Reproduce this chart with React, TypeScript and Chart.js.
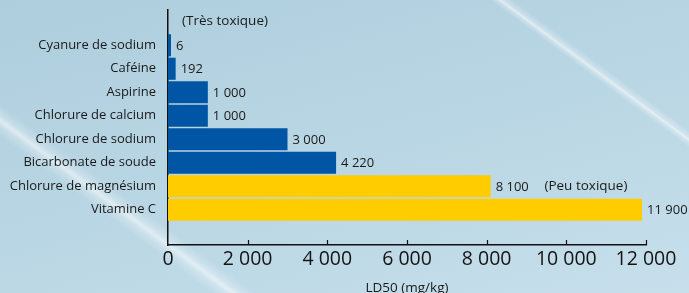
import React, { useEffect, useRef } from "react";
import { Chart, registerables } from "chart.js";

Chart.register(...registerables);

const categories = [
  "",
  "Cyanure de sodium",
  "Caféine",
  "Aspirine",
  "Chlorure de calcium",
  "Chlorure de sodium",
  "Bicarbonate de soude",
  "Chlorure de magnésium",
  "Vitamine C",
  "",
];
const ld50Values: (number | null)[] = [null, 6, 192, 1000, 1000, 3000, 4220, 8100, 11900, null];
const barColors = ["#0055a5", "#0055a5", "#0055a5", "#0055a5", "#0055a5", "#0055a5", "#0055a5", "#ffcc00", "#ffcc00", "#0055a5"];
const xTicks = [0, 2000, 4000, 6000, 8000, 10000, 12000];
const axisTitle = "LD50 (mg/kg)";
const topNote = "(Très toxique)";
const lowNote = "(Peu toxique)";

const FONT = "'Open Sans', 'Noto Sans', sans-serif";
const fmt = (v: number) => String(v).replace(/\B(?=(\d{3})+(?!\d))/g, " ");

const annotations = {
  id: "annotations",
  afterDatasetsDraw(chart: any) {
    const { ctx, scales } = chart;
    const x = scales.x;
    const y = scales.y;
    const meta = chart.getDatasetMeta(0);
    ctx.save();
    // inward tick marks on x axis
    ctx.strokeStyle = "#111";
    ctx.lineWidth = 1.2;
    xTicks.forEach((t) => {
      if (t === 0) return;
      const px = Math.round(x.getPixelForValue(t)) + 0.5;
      ctx.beginPath();
      ctx.moveTo(px, x.top);
      ctx.lineTo(px, x.top - 5);
      ctx.stroke();
    });
    // value labels
    ctx.fillStyle = "#1a1a1a";
    ctx.font = `13px ${FONT}`;
    ctx.textBaseline = "middle";
    ctx.textAlign = "left";
    meta.data.forEach((bar: any, i: number) => {
      const v = ld50Values[i];
      if (v == null) return;
      ctx.fillText(fmt(v), bar.x + 5, bar.y + 1);
    });
    // notes
    ctx.font = `13.5px ${FONT}`;
    ctx.fillText(topNote, x.getPixelForValue(0) + 14, y.getPixelForValue(0) - 1);
    const magBar = meta.data[7];
    ctx.fillText(lowNote, x.getPixelForValue(9450), magBar.y);
    // axis title
    ctx.textAlign = "center";
    ctx.font = `13.5px ${FONT}`;
    ctx.fillText(axisTitle, (x.left + x.right) / 2, 288);
    ctx.restore();
  },
};

export default function App() {
  const ref = useRef<HTMLCanvasElement | null>(null);
  useEffect(() => {
    document.body.style.margin = "0";
    const chart = new Chart(ref.current!, {
      type: "bar",
      data: {
        labels: categories,
        datasets: [
          {
            data: ld50Values,
            backgroundColor: barColors,
            barPercentage: 0.94,
            categoryPercentage: 1,
            minBarLength: 3,
            borderWidth: 0,
          },
        ],
      },
      options: {
        indexAxis: "y",
        animation: false,
        responsive: true,
        maintainAspectRatio: false,
        layout: { padding: { top: 10, right: 43, left: 0, bottom: 0 } },
        plugins: { legend: { display: false }, tooltip: { enabled: false } },
        scales: {
          x: {
            min: 0,
            max: 12000,
            afterBuildTicks(scale: any) {
              scale.ticks = xTicks.map((v) => ({ value: v }));
            },
            afterFit(scale: any) {
              scale.height = 48;
              scale.paddingLeft = 0;
              scale.paddingRight = 0;
            },
            grid: { display: false, drawTicks: false },
            border: { display: true, color: "#111", width: 1.5 },
            ticks: {
              padding: 3,
              color: "#141414",
              font: { family: FONT, size: 19.5 },
              callback: (v: any) => fmt(Number(v)),
              maxRotation: 0,
              autoSkip: false,
            },
          },
          y: {
            afterFit(scale: any) {
              scale.width = 168;
              scale.paddingTop = 0;
              scale.paddingBottom = 0;
            },
            grid: { display: false, drawTicks: false },
            border: { display: true, color: "#111", width: 1.5 },
            ticks: {
              padding: 12,
              color: "#1a1a1a",
              font: { family: FONT, size: 13 },
              autoSkip: false,
            },
          },
        },
      },
      plugins: [annotations],
    });
    return () => chart.destroy();
  }, []);

  const bg = [
    "linear-gradient(36.5deg, rgba(255,255,255,0) 19.5%, rgba(255,255,255,0.25) 20.8%, rgba(255,255,255,0.55) 21.5%, rgba(255,255,255,0.25) 22.2%, rgba(255,255,255,0) 23.5%)",
    "linear-gradient(36.5deg, rgba(255,255,255,0) 81.6%, rgba(255,255,255,0.3) 82.3%, rgba(255,255,255,0.6) 82.6%, rgba(255,255,255,0.3) 82.9%, rgba(255,255,255,0) 83.8%)",
    "linear-gradient(165deg, #aecedd 0%, #b8d5e3 45%, #c6dfeb 100%)",
  ].join(",");

  return (
    <div style={{ width: 689, height: 293, position: "relative", background: bg }}>
      <canvas ref={ref} />
    </div>
  );
}
